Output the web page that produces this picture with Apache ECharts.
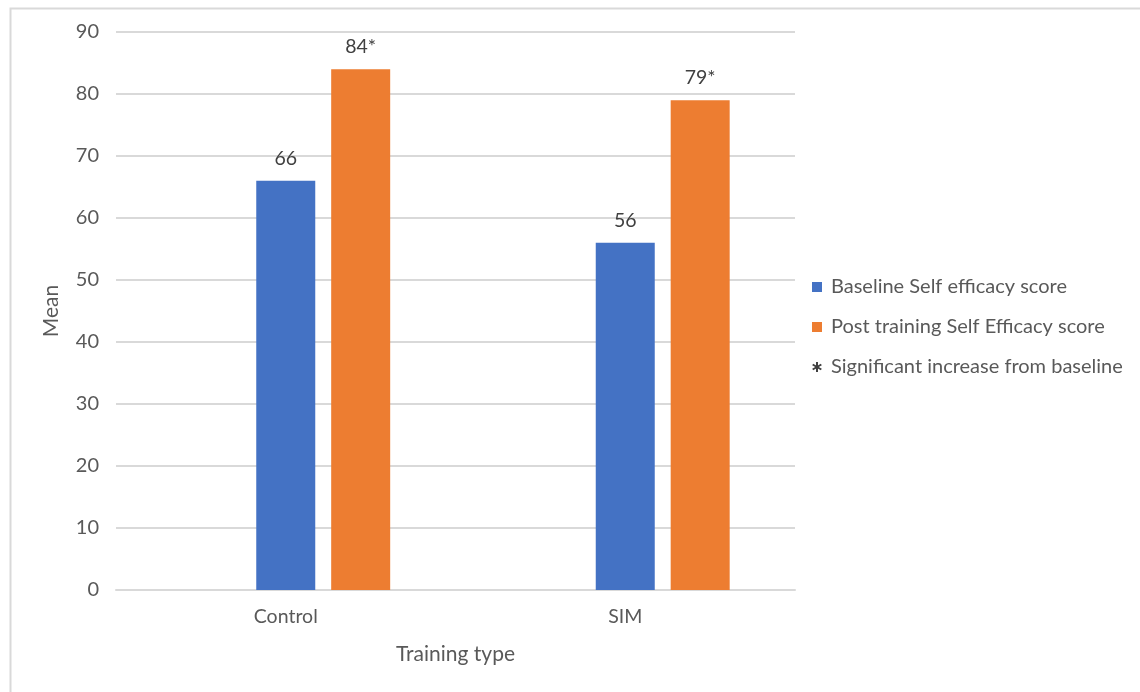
<!DOCTYPE html>
<html>
<head>
<meta charset="utf-8">
<title>Self efficacy by training type</title>
<script src="https://cdn.jsdelivr.net/npm/echarts@6/dist/echarts.min.js"></script>
<style>
  html, body { margin: 0; padding: 0; background: #ffffff; }
  #chart { width: 1140px; height: 692px; }
</style>
</head>
<body>
<div id="chart"></div>
<script>
// Training groups on the x axis
const categories = ['Control', 'SIM'];

// Mean self efficacy scores
const baselineScores = [66, 56];
const postTrainingScores = [84, 79];
// "*" marks a significant increase from baseline
const postSignificant = [true, true];
// Placeholder series that only carries the "*" legend note (no bars)
const noteSeries = [null, null];

const seriesNames = [
  '* Significant increase from baseline',
  'Baseline Self efficacy score',
  'Post training Self Efficacy score'
];

// Y-axis ticks
const yMin = 0, yMax = 90, yStep = 10;

const FONT = 'Lato, "Open Sans", sans-serif';
const TEXT = '#595959';
const GRID_LINE = '#d9d9d9';

// Six-spoke asterisk used as the legend marker of the note entry
const STAR_PATH = 'path://M4,0 L6,0 L6,10 L4,10 Z ' +
  'M0.17,3.37 L1.17,1.63 L9.83,6.63 L8.83,8.37 Z ' +
  'M1.17,8.37 L0.17,6.63 L8.83,1.63 L9.83,3.37 Z';

const chart = echarts.init(document.getElementById('chart'), null, { renderer: 'canvas' });

const labelStyle = {
  show: true,
  position: 'top',
  distance: 12,
  color: '#404040',
  fontFamily: FONT,
  fontSize: 19.5
};

chart.setOption({
  backgroundColor: '#ffffff',
  animation: false,
  graphic: [{
    type: 'rect',
    left: 8,
    top: 6,
    shape: { width: 1200, height: 760 },
    style: { fill: 'none', stroke: '#d9d9d9', lineWidth: 2 },
    silent: true,
    z: -10
  }],
  grid: { left: 116, right: 345, top: 32, bottom: 102, containLabel: false },
  legend: {
    orient: 'vertical',
    left: 812,
    top: 277,
    padding: 0,
    itemWidth: 10,
    itemHeight: 10,
    itemGap: 20,
    textStyle: { color: TEXT, fontFamily: FONT, fontSize: 20, padding: [0, 0, 0, 4] },
    data: [
      { name: seriesNames[1], icon: 'rect' },
      { name: seriesNames[2], icon: 'rect' },
      { name: seriesNames[0], icon: STAR_PATH, itemStyle: { color: '#404040' } }
    ],
    formatter: function (name) {
      return name === seriesNames[0] ? name.replace(/^\*\s*/, '') : name;
    }
  },
  xAxis: {
    type: 'category',
    data: categories,
    name: 'Training type',
    nameLocation: 'middle',
    nameGap: 54,
    nameTextStyle: { color: TEXT, fontFamily: FONT, fontSize: 21 },
    axisLine: { show: true, lineStyle: { color: GRID_LINE, width: 2 } },
    axisTick: { show: false },
    axisLabel: { color: TEXT, fontFamily: FONT, fontSize: 19.5, margin: 17 }
  },
  yAxis: {
    type: 'value',
    min: yMin,
    max: yMax,
    interval: yStep,
    name: 'Mean',
    nameLocation: 'middle',
    nameGap: 54,
    nameRotate: 90,
    nameTextStyle: { color: TEXT, fontFamily: FONT, fontSize: 21 },
    axisLine: { show: false },
    axisTick: { show: false },
    axisLabel: { color: TEXT, fontFamily: FONT, fontSize: 20, margin: 17 },
    splitLine: { lineStyle: { color: GRID_LINE, width: 2 } }
  },
  series: [
    {
      name: seriesNames[0],
      type: 'bar',
      data: noteSeries,
      barWidth: 59,
      barGap: '27%',
      itemStyle: { color: '#404040' }
    },
    {
      name: seriesNames[1],
      type: 'bar',
      data: baselineScores,
      barWidth: 59,
      barGap: '27%',
      itemStyle: { color: '#4472c4' },
      label: labelStyle
    },
    {
      name: seriesNames[2],
      type: 'bar',
      data: postTrainingScores,
      barWidth: 59,
      barGap: '27%',
      itemStyle: { color: '#ed7d31' },
      label: Object.assign({}, labelStyle, {
        formatter: function (p) {
          return p.value + (postSignificant[p.dataIndex] ? '*' : '');
        }
      })
    }
  ]
});
</script>
</body>
</html>
